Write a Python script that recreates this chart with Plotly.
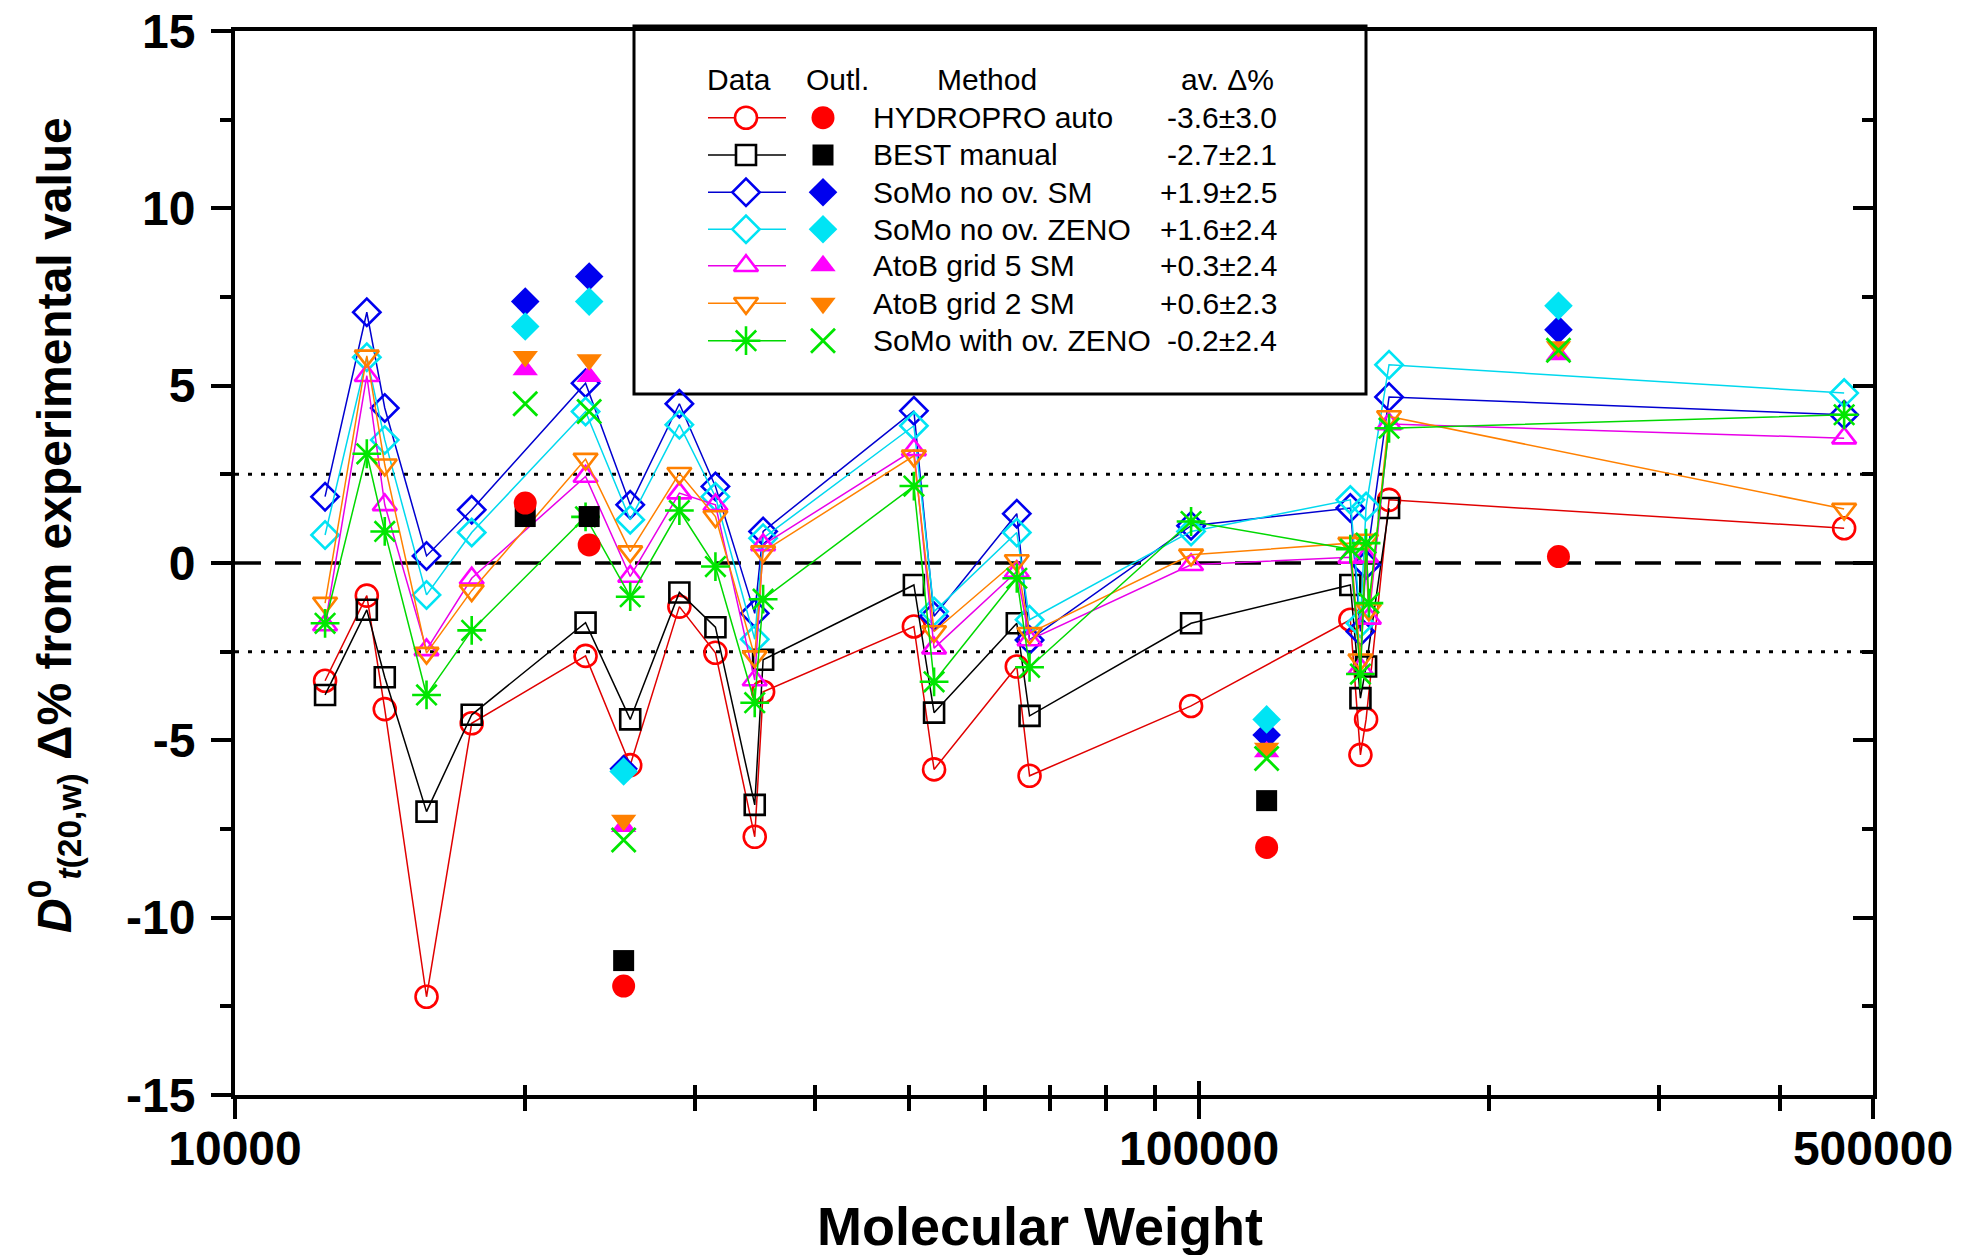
import plotly.graph_objects as go
import math

# ---------------- data ----------------
mw_main = [12400, 13700, 14300, 15800, 17600, 23100, 25700, 28900, 31500, 34600, 35300,
           50600, 53100, 64700, 66700, 98100, 143500, 147000, 149000, 157400, 466700]
mw_best = mw_main[:-1]
mw_atob = [12400, 13700, 14300, 15800, 17600, 23100, 25700, 28900, 31500, 34600, 35300,
           50600, 53100, 64700, 66700, 98100, 143500, 147000, 149000, 150000, 157400, 466700]

hydropro = [-3.32, -0.92, -4.12, -12.23, -4.52, -2.62, -5.7, -1.23, -2.53, -7.72, -3.63,
            -1.79, -5.82, -2.92, -6.0, -4.03, -1.6, -5.41, -4.41, 1.78, 0.98]
best = [-3.72, -1.32, -3.22, -7.01, -4.28, -1.68, -4.41, -0.83, -1.81, -6.82, -2.73,
        -0.62, -4.22, -1.7, -4.31, -1.7, -0.62, -3.81, -2.92, 1.55]
somo_sm = [1.87, 7.07, 4.37, 0.2, 1.5, 5.07, 1.64, 4.49, 2.16, -1.42, 0.89,
           4.29, -1.5, 1.39, -2.17, 1.05, 1.55, -1.93, -0.05, 4.68, 4.18]
somo_zeno = [0.79, 5.8, 3.47, -0.9, 0.86, 4.27, 1.22, 3.9, 1.87, -2.15, 0.7,
             3.87, -1.37, 0.86, -1.6, 0.89, 1.78, -1.7, 1.59, 5.59, 4.79]
atob5 = [-1.75, 5.28, 1.64, -2.45, -0.43, 2.44, -0.38, 1.97, 1.64, -3.3, 0.51,
         3.19, -2.4, -0.24, -2.17, -0.05, 0.16, -2.97, 0.18, -1.56, 3.92, 3.52]
atob2 = [-1.13, 5.84, 2.77, -2.54, -0.78, 2.93, 0.32, 2.53, 1.31, -2.64, 0.32,
         3.02, -1.93, 0.07, -1.98, 0.23, 0.56, -2.73, 0.65, -1.32, 4.13, 1.52]
somo_ov = [-1.70, 3.08, 0.89, -3.72, -1.9, 1.3, -0.95, 1.48, -0.1, -3.94, -1.02,
           2.17, -3.35, -0.43, -2.94, 1.17, 0.39, -3.13, 0.56, -1.13, 3.8, 4.18]

mw_out = [20000, 23300, 25300, 117500, 235900]
mw_out_best = mw_out[:-1]
hydropro_out = [1.69, 0.51, -11.93, -8.02, 0.18]
best_out = [1.31, 1.31, -11.21, -6.7]
somo_sm_out = [7.37, 8.08, -5.8, -4.85, 6.58]
somo_zeno_out = [6.67, 7.37, -5.88, -4.41, 7.25]
atob5_out = [5.45, 5.26, -7.43, -5.32, 5.87]
atob2_out = [5.82, 5.73, -7.25, -5.22, 6.1]
somo_ov_out = [4.49, 4.27, -7.81, -5.51, 6.0]

method_names = ["HYDROPRO auto", "BEST manual", "SoMo no ov. SM", "SoMo no ov. ZENO",
                "AtoB grid 5 SM", "AtoB grid 2 SM", "SoMo with ov. ZENO"]
avg_delta = ["-3.6±3.0", "-2.7±2.1", "+1.9±2.5", "+1.6±2.4", "+0.3±2.4", "+0.6±2.3", "-0.2±2.4"]

x_tickvals = [10000, 100000, 500000]
x_ticktext = ["10000", "100000", "500000"]
x_minor = [20000, 30000, 40000, 50000, 60000, 70000, 80000, 90000, 200000, 300000, 400000]
y_tickvals = [-15, -10, -5, 0, 5, 10, 15]
y_ticktext = ["-15", "-10", "-5", "0", "5", "10", "15"]

# ---------------- styles ----------------
W, H = 1962, 1255
ML, MR, MT, MB = 235, 89, 31, 160          # plot box, in page pixels
PW, PH = W - ML - MR, H - MT - MB

def px(x):
    return (x - ML) / PW

def py(y):
    return (H - MB - y) / PH

series = [
    (mw_main, hydropro, mw_out, hydropro_out, "#E00000", "#FF0000", "circle-open", "circle", 22),
    (mw_best, best, mw_out_best, best_out, "#000000", "#000000", "square-open", "square", 20),
    (mw_main, somo_sm, mw_out, somo_sm_out, "#0000D0", "#0000EE", "diamond-open", "diamond", 21),
    (mw_main, somo_zeno, mw_out, somo_zeno_out, "#00D8EE", "#00E4F4", "diamond-open", "diamond", 21),
    (mw_atob, atob5, mw_out, atob5_out, "#E800E8", "#FF00FF", "triangle-up-open", "triangle-up", 21),
    (mw_atob, atob2, mw_out, atob2_out, "#FF8000", "#FF8000", "triangle-down-open", "triangle-down", 21),
    (mw_atob, somo_ov, mw_out, somo_ov_out, "#00D800", "#00E600", "asterisk-open", "x-thin-open", 24),
]

fig = go.Figure()

for (xs, ys, xo, yo, lc, mc, so, sf, sz) in series:
    fig.add_trace(go.Scatter(
        x=xs, y=ys, mode="lines+markers",
        line=dict(color=lc, width=1.5),
        marker=dict(symbol=so, size=sz, color=mc, line=dict(color=mc, width=2.6)),
        showlegend=False, cliponaxis=False))

order = [1, 0, 2, 3, 4, 5, 6]
for i in order:
    xs, ys, xo, yo, lc, mc, so, sf, sz = series[i]
    if sf.endswith("-open"):
        mk = dict(symbol=sf, size=sz, color=mc, line=dict(color=mc, width=2.8))
    else:
        mk = dict(symbol=sf, size=sz + 1, color=mc, line=dict(color=mc, width=0))
    fig.add_trace(go.Scatter(x=xo, y=yo, mode="markers", marker=mk,
                             showlegend=False, cliponaxis=False))

fig.add_trace(go.Scatter(x=[None], y=[None], xaxis="x2", yaxis="y2", showlegend=False,
                         hoverinfo="skip"))

# ---------------- legend (drawn manually) ----------------
row_y = [117.7, 155.0, 192.3, 229.3, 265.7, 303.3, 340.7]
line_x0, line_x1, mark_x, fill_x, text_x, val_x = 708, 786, 746, 823, 871, 1279
for k, (xs, ys, xo, yo, lc, mc, so, sf, sz) in enumerate(series):
    yy = py(row_y[k])
    fig.add_trace(go.Scatter(x=[px(line_x0), px(line_x1)], y=[yy, yy], mode="lines",
                             line=dict(color=lc, width=1.5), xaxis="x3", yaxis="y3",
                             showlegend=False, hoverinfo="skip", cliponaxis=False))
    if so.startswith("asterisk"):
        lm = dict(symbol=so, size=sz, color=mc, line=dict(color=mc, width=2.6))
    else:
        lm = dict(symbol=so.replace("-open", ""), size=sz, color="white",
                  line=dict(color=mc, width=2.6))
    fig.add_trace(go.Scatter(x=[px(mark_x)], y=[yy], mode="markers", marker=lm,
                             xaxis="x3", yaxis="y3", showlegend=False, hoverinfo="skip",
                             cliponaxis=False))
    if sf.endswith("-open"):
        mk = dict(symbol=sf, size=sz, color=mc, line=dict(color=mc, width=2.8))
    else:
        mk = dict(symbol=sf, size=sz + 1, color=mc, line=dict(width=0))
    fig.add_trace(go.Scatter(x=[px(fill_x)], y=[yy], mode="markers", marker=mk,
                             xaxis="x3", yaxis="y3", showlegend=False, hoverinfo="skip",
                             cliponaxis=False))

FAM = "Liberation Sans, Arial, sans-serif"
LEG_FONT = dict(family=FAM, size=30, color="black")
annotations = []
for k in range(7):
    annotations.append(dict(x=px(text_x), y=py(row_y[k]), xref="paper", yref="paper",
                            text=method_names[k], showarrow=False, xanchor="left",
                            yanchor="middle", font=LEG_FONT))
    annotations.append(dict(x=px(val_x), y=py(row_y[k]), xref="paper", yref="paper",
                            text=avg_delta[k], showarrow=False, xanchor="right",
                            yanchor="middle", font=LEG_FONT))
for txt, cx in [("Data", 739), ("Outl.", 837), ("Method", 987), ("av. Δ%", 1227)]:
    annotations.append(dict(x=px(cx), y=py(80), xref="paper", yref="paper", text=txt,
                            showarrow=False, xanchor="center", yanchor="middle", font=LEG_FONT))

# axis titles
annotations.append(dict(
    x=px(54), y=py(525), xref="paper", yref="paper", textangle=-90, showarrow=False,
    xanchor="center", yanchor="middle",
    text="<i>D</i><sup>0</sup><sub><i>t</i>(20,w)</sub> Δ% from experimental value",
    font=dict(family=FAM, size=48, color="black", weight="bold")))
annotations.append(dict(
    x=px(1040), y=py(1226), xref="paper", yref="paper", showarrow=False,
    xanchor="center", yanchor="middle", text="Molecular Weight",
    font=dict(family=FAM, size=54, color="black", weight="bold")))

shapes = [
    dict(type="rect", xref="paper", yref="paper", x0=px(634), x1=px(1366), y0=py(394), y1=py(26),
         line=dict(color="black", width=3), fillcolor="white", layer="below"),
    dict(type="line", xref="paper", yref="y", x0=0, x1=1, y0=0, y1=0,
         line=dict(color="black", width=3.5, dash="26px,14px"), layer="below"),
    dict(type="line", xref="paper", yref="y", x0=0, x1=1, y0=2.5, y1=2.5,
         line=dict(color="black", width=3, dash="4px,9px"), layer="below"),
    dict(type="line", xref="paper", yref="y", x0=0, x1=1, y0=-2.5, y1=-2.5,
         line=dict(color="black", width=3, dash="4px,9px"), layer="below"),
]

TICK_FONT = dict(family=FAM, size=48, color="black", weight="bold")
xr = [4, math.log10(500000)]

fig.update_layout(
    width=W, height=H,
    margin=dict(l=ML, r=MR, t=MT, b=MB, autoexpand=False),
    paper_bgcolor="white", plot_bgcolor="white",
    showlegend=False, shapes=shapes, annotations=annotations,
    xaxis=dict(type="log", range=xr, showline=True, linewidth=4, linecolor="black",
               mirror=True, showgrid=False, zeroline=False, automargin=False,
               tickmode="array", tickvals=x_tickvals, ticktext=x_ticktext,
               ticks="outside", ticklen=20, tickwidth=4, tickcolor="black",
               tickfont=TICK_FONT, ticklabelstandoff=-12, ticklabeloverflow="allow",
               minor=dict(tickmode="array", tickvals=x_minor, ticks="outside",
                          ticklen=12, tickwidth=3.5, tickcolor="black", showgrid=False)),
    yaxis=dict(range=[-15, 15], showline=True, linewidth=4, linecolor="black", mirror=True,
               showgrid=False, zeroline=False, automargin=False,
               tickmode="array", tickvals=y_tickvals, ticktext=y_ticktext,
               ticks="outside", ticklen=20, tickwidth=4, tickcolor="black",
               tickfont=TICK_FONT, ticklabelstandoff=6, ticklabeloverflow="allow",
               minor=dict(dtick=2.5, tick0=0, ticks="outside", ticklen=11, tickwidth=3.5,
                          tickcolor="black", showgrid=False)),
    xaxis2=dict(type="log", range=xr, overlaying="x", anchor="y", side="bottom",
                showgrid=False, zeroline=False, showticklabels=False, showline=False,
                automargin=False,
                tickmode="array", tickvals=x_tickvals, ticks="inside", ticklen=14,
                tickwidth=4, tickcolor="black",
                minor=dict(tickmode="array", tickvals=x_minor, ticks="inside", ticklen=10,
                           tickwidth=3.5, tickcolor="black", showgrid=False)),
    yaxis2=dict(range=[-15, 15], overlaying="y", anchor="x", side="right",
                showgrid=False, zeroline=False, showticklabels=False, showline=False,
                automargin=False,
                dtick=5, tick0=0, ticks="inside", ticklen=20, tickwidth=4, tickcolor="black",
                minor=dict(dtick=2.5, tick0=0, ticks="inside", ticklen=11, tickwidth=3.5,
                           tickcolor="black", showgrid=False)),
    xaxis3=dict(range=[0, 1], overlaying="x", anchor="y3", visible=False),
    yaxis3=dict(range=[0, 1], overlaying="y", anchor="x3", visible=False),
)

fig.write_html("out.html", config={"displayModeBar": False},
               post_script="document.body.style.margin='0px';")
